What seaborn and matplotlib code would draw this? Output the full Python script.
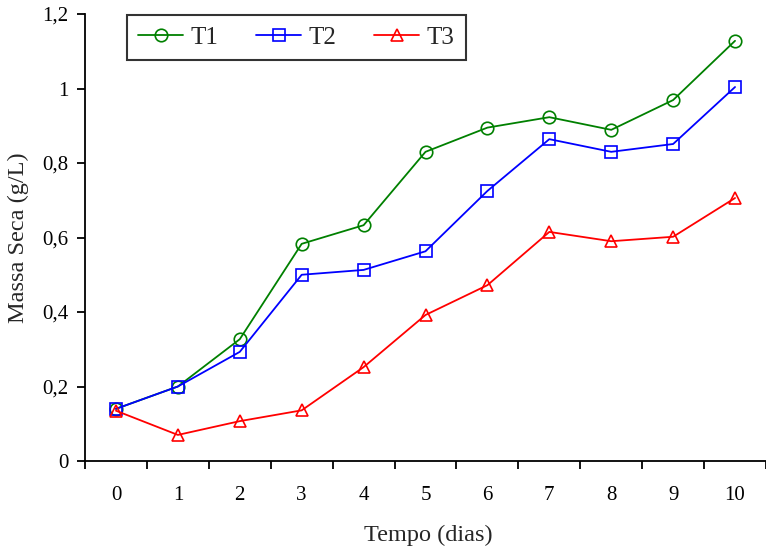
import matplotlib
matplotlib.use("Agg")
import matplotlib.pyplot as plt
import seaborn as sns
import pandas as pd
import numpy as np

dias = [0, 1, 2, 3, 4, 5, 6, 7, 8, 9, 10]
t1 = [0.140, 0.200, 0.327, 0.583, 0.633, 0.830, 0.895, 0.923, 0.889, 0.969, 1.128]
t2 = [0.140, 0.200, 0.293, 0.500, 0.513, 0.563, 0.725, 0.864, 0.830, 0.851, 1.004]
t3 = [0.135, 0.070, 0.107, 0.136, 0.252, 0.392, 0.472, 0.615, 0.590, 0.602, 0.706]
series = ["T1", "T2", "T3"]
colors = ["#008000", "#0000FF", "#FF0000"]
markers = ["o", "s", "^"]
y_ticks = [0, 0.2, 0.4, 0.6, 0.8, 1.0, 1.2]
y_labels = ["0", "0,2", "0,4", "0,6", "0,8", "1", "1,2"]

sns.set_style("ticks")
plt.rcParams['font.family'] = ['Liberation Serif', 'DejaVu Serif']

df = pd.DataFrame({"dia": dias * 3,
                   "massa": t1 + t2 + t3,
                   "serie": sum([[s] * len(dias) for s in series], [])})

fig = plt.figure(figsize=(7.66, 5.5), dpi=100)
ax = fig.add_axes([85/766, 89/550, 681/766, 447/550])

for s, c, m in zip(series, colors, markers):
    sns.lineplot(data=df[df.serie == s], x="dia", y="massa", ax=ax, color=c,
                 marker=m, markersize=9, mfc="none", mec=c, mew=1.2,
                 linewidth=1.3, label=s)

ax.set_xlim(-0.5, 10.5)
ax.set_ylim(0, 1.2)
ax.set_xticks(dias)
ax.set_xticklabels([str(d) for d in dias])
ax.set_xticks(np.arange(-0.5, 10.6, 1), minor=True)
ax.tick_params(axis="x", which="major", length=0, pad=18, labelsize=15, colors="black")
ax.tick_params(axis="x", which="minor", length=6, width=1.3, direction="out", color="black")
ax.set_yticks(y_ticks)
ax.set_yticklabels(y_labels)
ax.tick_params(axis="y", which="major", length=6, width=1.3, direction="out", labelsize=15, colors="black", pad=6)

for side in ["top", "right"]:
    ax.spines[side].set_visible(False)
for side in ["left", "bottom"]:
    ax.spines[side].set_linewidth(1.3)
    ax.spines[side].set_color("black")

ax.set_xlabel("Tempo (dias)", fontsize=17.5)
ax.set_ylabel("Massa Seca (g/L)", fontsize=17.5)
ax.xaxis.set_label_coords(0.504, -0.1655)
ax.xaxis.label.set_va("center")
ax.yaxis.set_label_coords(-0.098, 0.50)
ax.yaxis.label.set_va("center")

leg = ax.legend(ncol=3, loc="upper left", bbox_to_anchor=(127/766, 1 - 15/550),
                bbox_transform=fig.transFigure, borderaxespad=0, fontsize=18,
                frameon=True, fancybox=False, edgecolor="black",
                handlelength=1.8, columnspacing=1.5, borderpad=0.45, handletextpad=0.3)
leg.get_frame().set_linewidth(1.5)

fig.savefig("out.png", dpi=100)
